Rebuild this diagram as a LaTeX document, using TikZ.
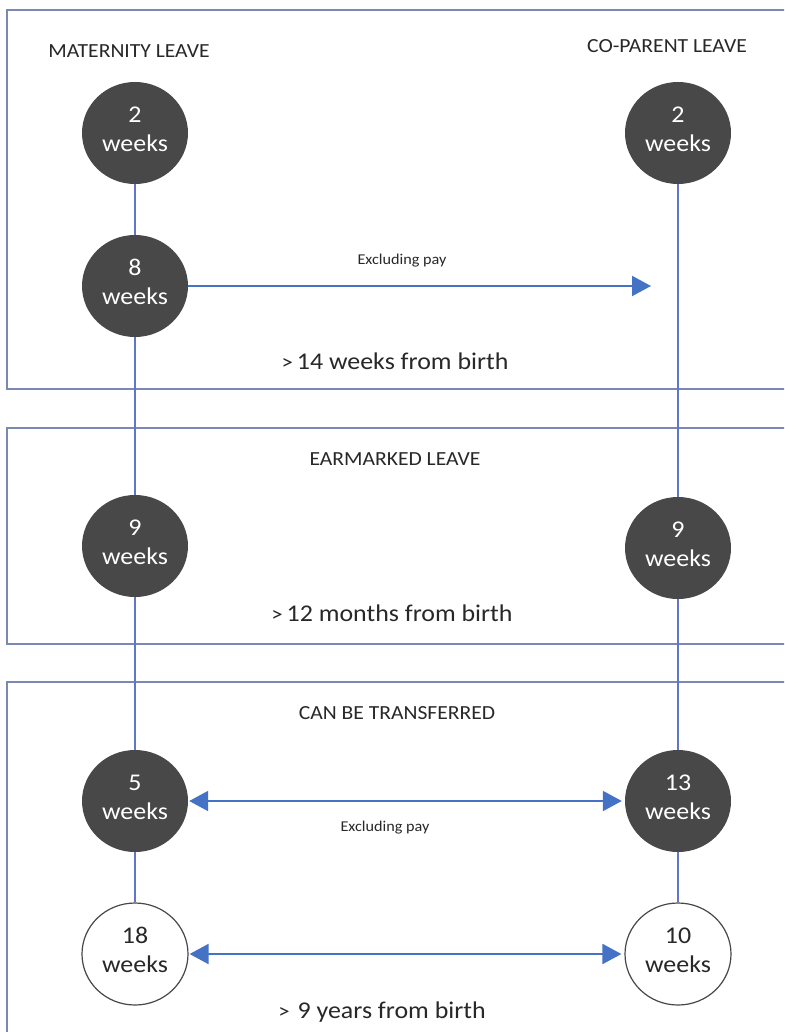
\documentclass[tikz,border=0pt]{standalone}
\usepackage{fontspec}
\setmainfont{Carlito}[FakeStretch=1.08]
\usetikzlibrary{arrows.meta,shapes.geometric}
\definecolor{boxc}{RGB}{122,136,178}
\definecolor{linec}{RGB}{96,118,200}
\definecolor{arrc}{RGB}{68,114,196}
\definecolor{dark}{RGB}{72,72,72}
\definecolor{txt}{RGB}{40,40,40}
\tikzset{
  panel/.style={draw=boxc,line width=2.2pt},
  dot/.style={ellipse,minimum width=106pt,minimum height=102pt,inner sep=0pt,align=center,
    text depth=8pt,font=\fontsize{24}{29}\selectfont},
  darkdot/.style={dot,fill=dark,text=white},
  whitedot/.style={dot,draw=dark,line width=1.2pt,fill=white,text=txt},
  title/.style={text=txt,font=\fontsize{20}{24}\selectfont},
  note/.style={text=txt,font=\fontsize{24}{28}\selectfont},
  small/.style={text=txt,font=\fontsize{15}{18}\selectfont},
  vline/.style={draw=linec,line width=1.5pt},
  arr/.style={draw=arrc,line width=2pt,-{Triangle[length=19pt,width=20pt]}},
  darr/.style={draw=arrc,line width=2pt,{Triangle[length=19pt,width=20pt]}-{Triangle[length=19pt,width=20pt]}}
}
\newcommand{\gtmark}{{\fontsize{21}{24}\selectfont>}}
\begin{document}
\begin{tikzpicture}[x=1pt,y=-1pt]
\useasboundingbox (0,0) rectangle (784,1032);
\clip (0,0) rectangle (784,1032);
\fill[white] (0,0) rectangle (784,1032);
% panels
\draw[panel] (7,10) rectangle (800,389);
\draw[panel] (7,428) rectangle (800,644);
\draw[panel] (7,682) rectangle (800,1050);
% titles
\node[title] (tm) at (129,51) {MATERNITY LEAVE};
\node[title] (tc) at (667,46) {CO-PARENT LEAVE};
\node[title] (te) at (395,459) {EARMARKED LEAVE};
\node[title] (tt) at (397,713) {CAN BE TRANSFERRED};
% circles
\node[darkdot] (c2L) at (135,133) {2\\weeks};
\node[darkdot] (c2R) at (678,133) {2\\weeks};
\node[darkdot] (c8L) at (135,286) {8\\weeks};
\node[darkdot] (c9L) at (135,546) {9\\weeks};
\node[darkdot] (c9R) at (678,548) {9\\weeks};
\node[darkdot] (c5L) at (135,801) {5\\weeks};
\node[darkdot] (c13R) at (678,801) {13\\weeks};
\node[whitedot] (c18L) at (135,954) {18\\weeks};
\node[whitedot] (c10R) at (678,954) {10\\weeks};
% vertical connectors
\draw[vline] (c2L) -- (c8L);
\draw[vline] (c8L) -- (c9L);
\draw[vline] (c9L) -- (c5L);
\draw[vline] (c5L) -- (c18L);
\draw[vline] (c2R) -- (c9R);
\draw[vline] (c9R) -- (c13R);
\draw[vline] (c13R) -- (c10R);
% arrows
\coordinate (tip1) at (651,286);
\draw[arr] (c8L.east) -- (tip1);
\node[small] (ex1) at (402,261) {Excluding pay};
\draw[darr] ([xshift=1pt]c5L.east) -- ([xshift=-3pt]c13R.west);
\node[small] (ex2) at (385,828) {Excluding pay};
\draw[darr] ([xshift=1pt]c18L.east) -- ([xshift=-3pt]c10R.west);
% notes
\node[note] (n1) at (395,361) {\gtmark\,14 weeks from birth};
\node[note] (n2) at (392,613) {\gtmark\,12 months from birth};
\node[note] (n3) at (382,1012) {\gtmark\,\,9 years from birth};
\end{tikzpicture}
\end{document}
